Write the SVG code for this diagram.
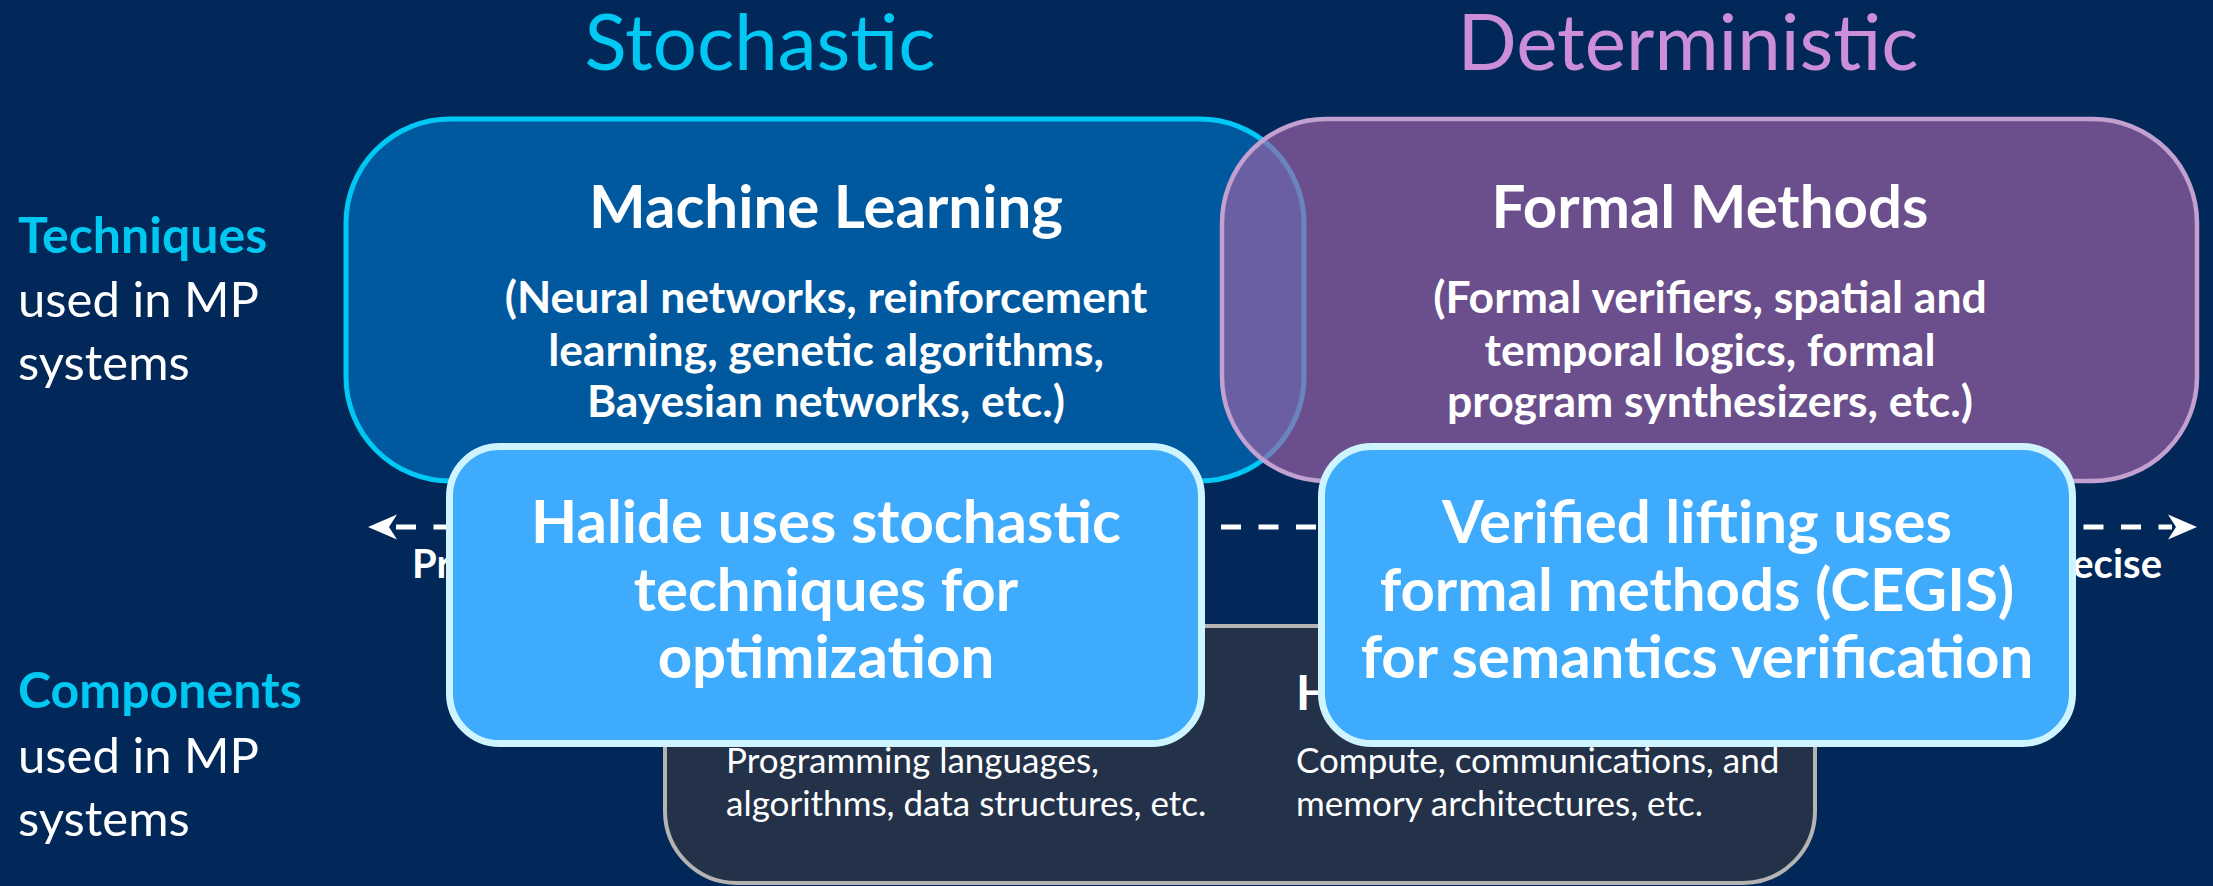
<svg xmlns="http://www.w3.org/2000/svg" width="2213" height="886" viewBox="0 0 2213 886">
  <defs>
    <style>
      text { font-family: Lato, "Open Sans", "Liberation Sans", sans-serif; fill: #ffffff; }
      .title { font-size: 78px; text-anchor: middle; }
      .side { font-size: 49px; }
      .side-key { font-size: 50px; font-weight: bold; fill: #00c8f2; }
      .head { font-size: 60px; font-weight: bold; text-anchor: middle; }
      .sub { font-size: 44.5px; font-weight: bold; text-anchor: middle; }
      .axis { font-size: 40px; font-weight: bold; }
      .note { font-size: 60px; font-weight: bold; text-anchor: middle; }
      .comp-head { font-size: 48px; font-weight: bold; }
      .comp { font-size: 35px; }
      .callout { fill: #3eabfc; stroke: #cdf4ff; stroke-width: 7; }
    </style>
    <marker id="head" viewBox="-6 -14 34 28" refX="0" refY="0" markerWidth="34" markerHeight="28" markerUnits="userSpaceOnUse" orient="auto-start-reverse">
      <path d="M-4,-12.5 L25,0 L-4,12.5 L4,0 Z" fill="#ffffff"/>
    </marker>
  </defs>

  <!-- backdrop -->
  <rect x="0" y="0" width="2213" height="886" fill="#012858"/>

  <!-- column titles -->
  <g id="title-stochastic">
    <text class="title" x="760" y="70" style="fill:#00c8f2">Stochastic</text>
  </g>
  <g id="title-deterministic">
    <text class="title" x="1688" y="70" style="fill:#cc8ed9">Deterministic</text>
  </g>

  <!-- row labels -->
  <g id="label-techniques">
    <text class="side side-key" x="18" y="253">Techniques</text>
    <text class="side" x="18" y="317">used in MP</text>
    <text class="side" x="18" y="380">systems</text>
  </g>
  <g id="label-components">
    <text class="side side-key" x="18" y="708">Components</text>
    <text class="side" x="18" y="773">used in MP</text>
    <text class="side" x="18" y="836">systems</text>
  </g>

  <!-- technique boxes -->
  <g id="machine-learning">
    <rect x="346" y="119" width="958" height="362" rx="104" ry="104" fill="#00589e" stroke="#00c8f5" stroke-width="5"/>
    <text class="head" x="826" y="228">Machine Learning</text>
    <text class="sub" x="826" y="313">(Neural networks, reinforcement</text>
    <text class="sub" x="826" y="366">learning, genetic algorithms,</text>
    <text class="sub" x="826" y="417">Bayesian networks, etc.)</text>
  </g>
  <g id="formal-methods">
    <rect x="1222" y="119" width="975" height="362" rx="104" ry="104" fill="#9e62a5" fill-opacity="0.67" stroke="#c2a0cf" stroke-width="4.5"/>
    <text class="head" x="1710" y="228">Formal Methods</text>
    <text class="sub" x="1710" y="313">(Formal verifiers, spatial and</text>
    <text class="sub" x="1710" y="366">temporal logics, formal</text>
    <text class="sub" x="1710" y="417">program synthesizers, etc.)</text>
  </g>

  <!-- stochastic / deterministic axis -->
  <g id="connectors">
    <line x1="393" y1="527" x2="2172" y2="527" stroke="#ffffff" stroke-width="5" stroke-dasharray="20 17.5" stroke-dashoffset="-3" marker-start="url(#head)" marker-end="url(#head)"/>
  </g>
  <g id="axis-labels">
    <text class="axis" x="412" y="578">Probabilistic</text>
    <text class="axis" x="2162" y="578" text-anchor="end">Precise</text>
  </g>

  <!-- component box -->
  <g id="components">
    <rect x="665" y="626" width="1150" height="257" rx="72" ry="72" fill="#233249" stroke="#b4b4b4" stroke-width="4"/>
    <text class="comp-head" x="1296" y="710">Hardware</text>
    <text class="comp" x="726" y="773">Programming languages,</text>
    <text class="comp" x="726" y="816">algorithms, data structures, etc.</text>
    <text class="comp" x="1296" y="773">Compute, communications, and</text>
    <text class="comp" x="1296" y="816">memory architectures, etc.</text>
  </g>

  <!-- call-outs -->
  <g id="halide-note">
    <rect class="callout" x="449.5" y="446.5" width="752" height="297" rx="50" ry="50"/>
    <text class="note" x="826" y="543">Halide uses stochastic</text>
    <text class="note" x="826" y="611">techniques for</text>
    <text class="note" x="826" y="678">optimization</text>
  </g>
  <g id="verified-lifting-note">
    <rect class="callout" x="1321.5" y="446.5" width="751" height="297" rx="50" ry="50"/>
    <text class="note" x="1697" y="543">Verified lifting uses</text>
    <text class="note" x="1697" y="611">formal methods (CEGIS)</text>
    <text class="note" x="1697" y="678">for semantics verification</text>
  </g>
</svg>
